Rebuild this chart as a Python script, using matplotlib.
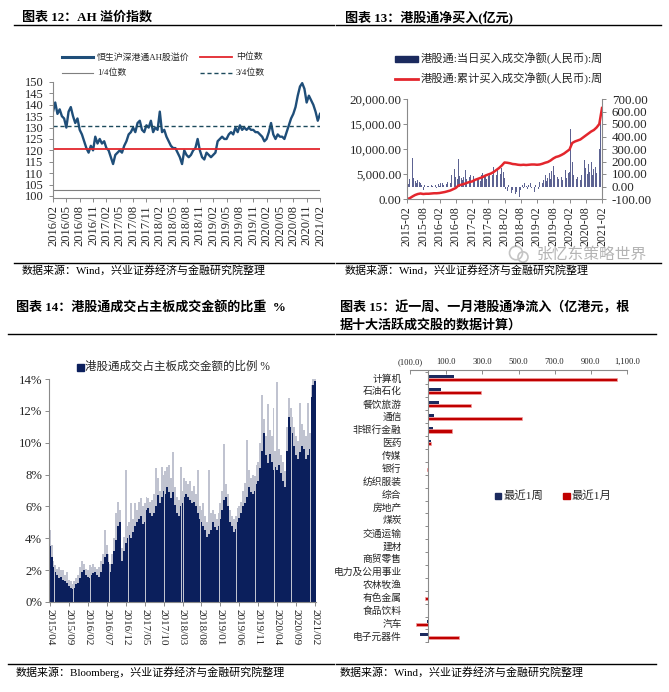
import matplotlib.pyplot as plt
import numpy as np
from matplotlib.lines import Line2D
from matplotlib.patches import Rectangle, Circle

plt.rcParams["font.family"] = ["Liberation Serif", "Noto Sans CJK SC", "DejaVu Sans"]
plt.rcParams["axes.unicode_minus"] = False

# ---- chart 12: AH premium index (half-month readings, 2016/02 - 2021/02)
ah_premium = [
    137, 141, 136, 138, 135, 134, 130, 137, 139, 135,
    132, 134, 129, 127, 124, 121, 119, 122, 120, 126,
    123, 125, 123, 124, 121, 120, 117, 114, 118, 119,
    120, 119, 122, 124, 127, 128, 130, 128, 132, 133,
    129, 128, 131, 130, 133, 128, 130, 129, 137, 128,
    129, 126, 124, 122, 121, 121, 119, 117, 114, 120,
    118, 117, 118, 120, 121, 125, 120, 117, 116, 119,
    118, 117, 118, 119, 124, 125, 126, 125, 125, 127,
    128, 127, 130, 128, 131, 129, 130, 129, 130, 129,
    129, 128, 128, 127, 126, 124, 125, 128, 132, 127,
    125, 127, 126, 126, 125, 128, 131, 134, 136, 139,
    144, 148, 149.5, 147, 141, 144, 142, 140, 137, 133,
    136,
]
ah_median = 120.6
ah_q3 = 130.8
ah_q1 = 102.7
ah_ticks = ["2016/02", "2016/05", "2016/08", "2016/11", "2017/02", "2017/05",
            "2017/08", "2017/11", "2018/02", "2018/05", "2018/08", "2018/11",
            "2019/02", "2019/05", "2019/08", "2019/11", "2020/02", "2020/05",
            "2020/08", "2020/11", "2021/02"]

# ---- chart 13: southbound net buy, weekly (half-month readings) and cumulative (monthly)
weekly_buy = [
    5, 20, 60, 40, 225, 70, 45, 30, 50, 35, 25, 15, -25,
    10, -10, 5, 8, -5, 12, 6, 15, 10, -8, 20, 8,
    30, 25, 15, 40, 20, 35, 55, 30, 90, 60, 140, 75,
    60, 220, 85, 70, 50, 80, 130, 60, 40, 75, 95, 55,
    85, 60, 70, 55, 65, 45, 90, 110, 75, 95, 60, 85,
    100, 120, 90, 160, 110, 95, 130, 150, 100, 150, 120, 70,
    -20, -35, 15, -40, -55, -30, 20, -60, -45, -70, -80, -30,
    10, -15, 25, 5, -20, 15, 30, -10, 20, -40, 10, -80,
    -20, 40, 65, 30, 55, 90, 45, 70, 110, 60, 125, 165,
    95, 120, 80, 60, 100, 75, 50, 90, 130, 70, 110, 120,
    460, 200, 90, 120, 60, 80, 140, 55, 90, 290, 210, 150,
    100, 180, 120, 200, 90, 140, 160, 110, 225, 300, 570, 700,
]
cum_buy = [
    0, 150, 500, 800, 1000, 1100, 1000, 1050, 1050, 1100, 1150, 1150,
    1200, 1300, 1400, 1550, 1700, 1950, 2200, 2700, 2850, 3000, 3200, 3400,
    3500, 3800, 4000, 4200, 4400, 4700, 4900, 5100, 5400, 5800, 6200, 6700,
    7300, 7250, 7150, 7000, 6950, 6850, 6800, 6850, 6800, 6850, 6900, 6900,
    6850, 6900, 7050, 7250, 7400, 7700, 8100, 8400, 8550, 8800, 9100, 9500,
    9900, 11200, 11500, 11700, 11900, 12300, 12700, 13100, 13500, 13800, 14300, 15000,
    18200,
]
buy_ticks = ["2015-02", "2015-08", "2016-02", "2016-08", "2017-02", "2017-08",
             "2018-02", "2018-08", "2019-02", "2019-08", "2020-02", "2020-08",
             "2021-02"]

# ---- chart 14: southbound share of main board turnover (%), half-month readings
share_level = [
    3.5, 2.8, 2.2, 1.9, 1.7, 1.5, 1.6, 1.4, 1.3, 1.2,
    1.0, 0.9, 0.8, 0.9, 1.1, 1.2, 1.5, 1.9, 2.0, 1.7,
    1.6, 1.5, 1.7, 1.8, 1.9, 1.7, 1.6, 1.9, 2.4, 2.8,
    3.0, 2.5, 1.9, 2.4, 3.2, 3.9, 4.8, 5.0, 2.6, 3.2,
    3.7, 4.0, 4.2, 4.0, 4.4, 4.8, 5.0, 5.2, 5.4, 4.9,
    5.0, 5.8, 5.9, 5.6, 5.4, 5.6, 6.0, 6.7, 6.2, 6.6,
    7.0, 6.8, 7.2, 6.9, 6.5, 6.9, 6.1, 5.6, 5.4, 6.0,
    6.2, 6.6, 6.8, 6.6, 6.4, 6.2, 6.3, 6.0, 5.6, 5.2,
    5.0, 4.8, 4.5, 4.1, 4.3, 4.5, 5.0, 4.7, 4.5, 4.8,
    5.2, 5.8, 6.4, 6.6, 6.0, 5.0, 4.8, 4.4, 4.6, 5.0,
    5.3, 5.6, 6.0, 6.2, 6.6, 7.2, 6.9, 6.8, 7.0, 7.4,
    7.6, 8.4, 9.5, 10.6, 9.2, 8.7, 9.3, 8.8, 8.3, 8.5,
    8.3, 8.6, 8.1, 7.6, 7.2, 9.5, 11.6, 11.0, 10.6, 9.8,
    9.2, 9.0, 9.4, 9.8, 9.6, 9.0, 9.2, 9.6, 12.9, 13.6,
    13.9,
]
share_peak = [
    4.5, 3.6, 2.6, 2.3, 2.1, 2.2, 2.0, 2.0, 1.7, 1.9,
    1.4, 1.3, 1.1, 1.3, 1.5, 1.7, 2.2, 2.6, 2.4, 2.1,
    2.0, 2.3, 2.2, 2.4, 2.2, 2.1, 2.2, 2.6, 3.0, 4.5,
    3.6, 3.0, 2.4, 3.0, 4.0, 5.6, 6.3, 5.8, 3.4, 4.1,
    8.3, 4.8, 5.0, 6.2, 5.2, 6.2, 5.8, 6.3, 6.5, 6.0,
    6.2, 6.6, 6.5, 6.3, 6.4, 6.8, 8.4, 7.8, 7.0, 8.5,
    8.0, 8.2, 8.5, 8.6, 7.8, 9.4, 7.2, 6.6, 6.4, 8.5,
    7.0, 7.8, 7.6, 7.4, 7.6, 7.0, 7.3, 6.8, 8.3, 6.0,
    5.8, 6.2, 5.4, 5.0, 8.3, 5.6, 5.8, 5.5, 5.2, 5.6,
    6.2, 7.0, 9.9, 7.4, 6.8, 5.8, 5.4, 5.2, 5.4, 5.9,
    6.0, 6.3, 7.0, 7.5, 10.2, 8.3, 7.8, 8.0, 7.9, 8.6,
    8.8, 10.0, 13.0, 11.5, 10.4, 12.4, 10.8, 10.4, 12.2, 9.5,
    13.8, 9.6, 9.2, 8.8, 8.2, 11.0, 12.8, 12.2, 11.6, 11.0,
    10.4, 10.1, 12.5, 11.2, 10.8, 10.4, 12.5, 10.6, 13.6, 14.0,
    14.0,
]
share_ticks = ["2015/04", "2015/09", "2016/02", "2016/07", "2016/12", "2017/05",
               "2017/10", "2018/03", "2018/08", "2019/01", "2019/06", "2019/11",
               "2020/04", "2020/09", "2021/02"]

# ---- chart 15: net inflow by industry (亿港元)
industries = ["计算机", "石油石化", "餐饮旅游", "通信", "非银行金融", "医药", "传媒",
              "银行", "纺织服装", "综合", "房地产", "煤炭", "交通运输", "建材",
              "商贸零售", "电力及公用事业", "农林牧渔", "有色金属", "食品饮料",
              "汽车", "电子元器件"]
flow_week = [144, 74, 61, 33, 26, 17, 0, 0, 0, 0, 0, 0, 0, 0, 0, 0, 0, 0, -2, -5, -42]
flow_month = [1042, 295, 240, 518, 133, 18, 0, -4, 0, 0, 0, 0, 0, 0, 0, 0, 0, -18, 0, -68, 170]

W, H = 669, 692
NAVY = "#1b2a5e"
DEEP = "#0b1f5c"
RED = "#e3262d"
GRAY = "#8a8a8a"
TXT = "#262626"


def fx(x):
    return x / W


def fy(y):
    return 1 - y / H


def box(x0, y0, x1, y1):
    return [fx(x0), fy(y1), (x1 - x0) / W, (y1 - y0) / H]


fig = plt.figure(figsize=(W / 100, H / 100), dpi=100)


def rule(x0, x1, y, **kw):
    kw.setdefault("color", "black")
    kw.setdefault("lw", 1.0)
    fig.add_artist(Line2D([fx(x0), fx(x1)], [fy(y), fy(y)], **kw))


def label(x, y, s, **kw):
    kw.setdefault("color", TXT)
    fig.text(fx(x), fy(y), s, va="center", **kw)


def square(x, y, size, color):
    fig.add_artist(Rectangle((fx(x), fy(y + size / 2)), size / W, size / H,
                             color=color, transform=fig.transFigure))


def style_axes(ax, spines=("left", "bottom")):
    for name, sp in ax.spines.items():
        sp.set_visible(name in spines)
        sp.set_color(GRAY)
        sp.set_linewidth(0.8)
    ax.tick_params(colors=GRAY, labelcolor=TXT, length=3, width=0.7)


# titles, rules and sources
title_kw = dict(fontsize=9.4, fontweight="bold", color="black")
src_kw = dict(fontsize=7.9, color="black")
label(22, 17, "图表 12：AH 溢价指数", **title_kw)
label(345, 17, "图表 13：港股通净买入(亿元)", **title_kw)
label(16, 307, "图表 14：港股通成交占主板成交金额的比重  %", **title_kw)
label(340, 307, "图表 15：近一周、一月港股通净流入（亿港元，根", **title_kw)
label(340, 325, "据十大活跃成交股的数据计算）", **title_kw)
rule(14, 334, 24.5)
rule(336, 661, 24.5)
rule(14, 334, 262.5)
rule(336, 661, 262.5)
rule(8, 334, 333.5)
rule(336, 656, 333.5)
rule(8, 334, 664)
rule(336, 656, 664)
label(22, 270, "数据来源：Wind，兴业证券经济与金融研究院整理", **src_kw)
label(345, 270, "数据来源：Wind，兴业证券经济与金融研究院整理", **src_kw)
label(16, 672, "数据来源：Bloomberg，兴业证券经济与金融研究院整理", **src_kw)
label(340, 672, "数据来源：Wind，兴业证券经济与金融研究院整理", **src_kw)

# ---------------- chart 12
ax1 = fig.add_axes(box(53, 82, 320, 198))
ah_x = np.arange(len(ah_premium)) / 2
ax1.plot(ah_x, ah_premium, color="#1f4e79", lw=1.7)
ax1.axhline(ah_median, color=RED, lw=1.3)
ax1.axhline(ah_q3, color="#1c4a5c", lw=1.0, ls=(0, (3, 2)))
ax1.axhline(ah_q1, color="#7f7f7f", lw=0.8)
ax1.set_xlim(0, 60)
ax1.set_ylim(99.1, 150)
ax1.set_yticks(np.arange(100, 151, 5))
ax1.set_xticks(np.arange(0, 61, 3))
ax1.set_xticklabels(ah_ticks, rotation=90)
style_axes(ax1)
ax1.tick_params(labelsize=9.0)
ax1.tick_params(axis="y", pad=4)
ax1.tick_params(axis="x", pad=2)

leg_kw = dict(fontsize=6.4)
fig.add_artist(Line2D([fx(62), fx(93)], [fy(57)] * 2, color="#1f4e79", lw=2.2))
label(97, 57, "恒生沪深港通AH股溢价", **leg_kw)
fig.add_artist(Line2D([fx(200), fx(232)], [fy(57)] * 2, color=RED, lw=1.3))
label(236, 57, "中位数", **leg_kw)
fig.add_artist(Line2D([fx(62), fx(93)], [fy(73)] * 2, color="#7f7f7f", lw=0.8))
label(97, 73, "1/4位数", **leg_kw)
fig.add_artist(Line2D([fx(200), fx(232)], [fy(73)] * 2, color="#1c4a5c", lw=1.0,
                      ls=(0, (3, 2))))
label(236, 73, "3/4位数", **leg_kw)

# ---------------- chart 13
ax2 = fig.add_axes(box(407, 99, 602, 199))
ax2r = ax2.twinx()
bx = np.arange(len(weekly_buy)) / 2
ax2r.bar(bx, weekly_buy, width=0.3, color="#5d6392", linewidth=0)
ax2r.set_ylim(-100, 700)
ax2r.set_yticks(np.arange(-100, 701, 100))
ax2r.set_yticklabels([f"{v:.2f}" for v in np.arange(-100, 701, 100)])
cx = np.arange(len(cum_buy))
ax2.plot(cx, cum_buy, color=RED, lw=1.8)
ax2.set_zorder(ax2r.get_zorder() + 1)
ax2.patch.set_visible(False)
ax2.set_ylim(0, 20000)
ax2.set_yticks(np.arange(0, 20001, 5000))
ax2.set_yticklabels([f"{v:,.2f}" for v in np.arange(0, 20001, 5000)])
ax2.set_xlim(0, 72)
ax2.set_xticks(np.arange(0, 73, 6))
ax2.set_xticklabels(buy_ticks, rotation=90)
style_axes(ax2, ("left", "bottom"))
style_axes(ax2r, ("right",))
ax2.tick_params(axis="y", labelsize=9.4, pad=1)
ax2.tick_params(axis="x", labelsize=8.6, pad=2)
ax2r.tick_params(labelsize=9.4, pad=4)

fig.add_artist(Rectangle((fx(395), fy(62)), 23 / W, 6 / H, color=NAVY,
                         transform=fig.transFigure))
label(421, 59, "港股通:当日买入成交净额(人民币):周", fontsize=8.1)
fig.add_artist(Line2D([fx(395), fx(418)], [fy(79)] * 2, color=RED, lw=2.0))
label(421, 79, "港股通:累计买入成交净额(人民币):周", fontsize=8.1)

# watermark
fig.add_artist(Circle((fx(516), fy(253)), 6.5 / W, fill=False, ec="#c4c4c4", lw=1.2,
                      transform=fig.transFigure))
fig.add_artist(Circle((fx(523), fy(257)), 5 / W, fill=False, ec="#c4c4c4", lw=1.2,
                      transform=fig.transFigure))
label(537, 254, "张忆东策略世界", fontsize=11.3, color="#b4b4b4",
      family="Noto Sans CJK SC")

# ---------------- chart 14
ax3 = fig.add_axes(box(49, 379, 316, 602))
sx = np.arange(len(share_level)) / 2
ax3.bar(sx, share_peak, width=0.5, color="#c0c3d0", linewidth=0)
ax3.bar(sx, share_level, width=0.47, color=DEEP, linewidth=0)
ax3.set_xlim(-0.2, 70.2)
ax3.set_ylim(0, 14)
ax3.set_yticks(np.arange(0, 15, 2))
ax3.set_yticklabels([f"{v}%" for v in range(0, 15, 2)])
ax3.set_xticks(np.arange(0, 71, 5))
ax3.set_xticklabels(share_ticks, rotation=270)
style_axes(ax3)
ax3.tick_params(labelsize=8)
ax3.tick_params(axis="y", labelsize=9.2, pad=2)
ax3.tick_params(axis="x", pad=2)

square(77, 367, 7, DEEP)
label(85, 367, "港股通成交占主板成交金额的比例 %", fontsize=8.3)

# ---------------- chart 15
ax4 = fig.add_axes(box(410, 370, 627, 643))
iy = np.arange(len(industries))
ax4.barh(iy - 0.11, flow_week, height=0.22, color=NAVY, linewidth=0)
ax4.barh(iy + 0.11, flow_month, height=0.24, color="#c00000",
         edgecolor="#f2a0a0", linewidth=0.5)
ax4.axvline(0, color=GRAY, lw=0.8)
ax4.hlines(np.arange(-0.5, len(industries)), -17, 0, color=GRAY, lw=0.7)
ax4.set_xlim(-100, 1100)
ax4.set_ylim(20.55, -0.62)
ax4.xaxis.tick_top()
xt = np.arange(-100, 1101, 200)
ax4.set_xticks(xt)
ax4.set_xticklabels([f"({abs(v):,.1f})" if v < 0 else f"{v:,.1f}" for v in xt])
ax4.get_xticklabels()[0].set_color("#c0273a")
ax4.set_yticks(iy)
ax4.set_yticklabels(industries)
style_axes(ax4, ("top",))
ax4.tick_params(axis="x", labelsize=6.2, direction="in", length=3, pad=3)
ax4.tick_params(axis="y", labelsize=7.0, length=0, pad=6)

square(495, 496, 6.5, NAVY)
label(503, 496, "最近1周", fontsize=8.2)
square(563, 496, 6.5, "#c00000")
label(571, 496, "最近1月", fontsize=8.2)

fig.savefig("out.png", dpi=100)
